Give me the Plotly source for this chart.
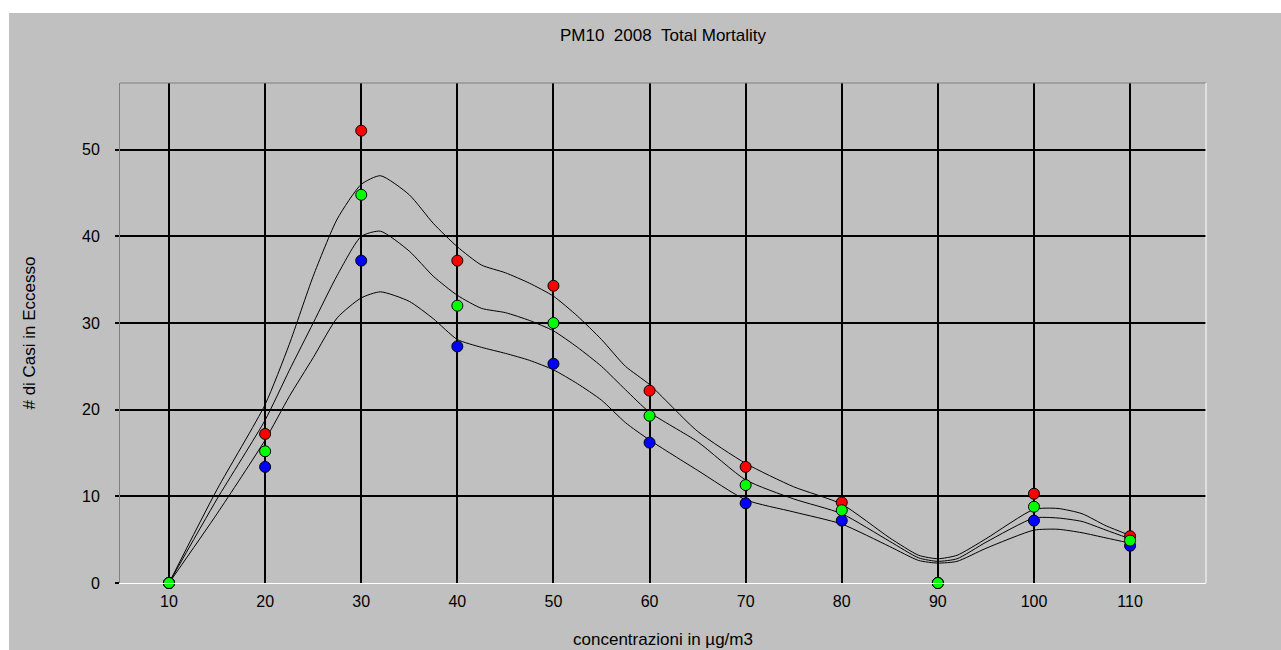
import plotly.graph_objects as go

# Observed points
x_points = [10, 20, 30, 40, 50, 60, 70, 80, 90, 100, 110]
red_vals = [0, 17.2, 52.2, 37.2, 34.3, 22.2, 13.4, 9.3, 0, 10.3, 5.4]
green_vals = [0, 15.2, 44.8, 32.0, 30.0, 19.3, 11.3, 8.4, 0, 8.8, 4.9]
blue_vals = [0, 13.4, 37.2, 27.3, 25.3, 16.2, 9.2, 7.2, 0, 7.2, 4.3]

# Smoothed curves
x_curve = [10, 15, 20, 22.5, 25, 27.5, 30, 32, 35, 37.5, 40, 42.5, 45, 47.5, 50,
           52.5, 55, 57.5, 60, 65, 70, 75, 80, 85, 88, 90, 92, 95, 100, 102.5,
           105, 107.5, 110]
upper_curve = [0, 10.8, 20.6, 27.5, 35.4, 42.0, 46.0, 47.0, 44.8, 41.5, 38.8, 36.7,
               35.8, 34.6, 33.1, 30.8, 28.1, 25.0, 22.9, 17.5, 13.8, 11.1, 9.1, 5.2,
               3.2, 2.8, 3.2, 5.1, 8.5, 8.6, 8.0, 6.6, 5.5]
middle_curve = [0, 9.7, 18.8, 24.5, 30.0, 35.5, 40.0, 40.6, 38.3, 35.4, 33.2, 31.7,
                31.2, 30.3, 29.1, 27.2, 25.0, 22.3, 19.7, 16.3, 11.9, 9.7, 8.0, 4.8,
                2.9, 2.5, 2.8, 4.7, 7.5, 7.5, 7.1, 6.1, 5.1]
lower_curve = [0, 8.0, 16.5, 21.5, 26.0, 30.6, 32.9, 33.6, 32.5, 30.5, 28.1, 27.2,
               26.5, 25.7, 24.6, 23.0, 21.1, 18.5, 16.5, 13.0, 9.6, 8.2, 6.8, 4.2,
               2.6, 2.3, 2.5, 4.0, 6.1, 6.2, 5.8, 5.2, 4.6]

x_ticks = [10, 20, 30, 40, 50, 60, 70, 80, 90, 100, 110]
y_ticks = [0, 10, 20, 30, 40, 50]

title_text = "PM10\u00a0\u00a02008\u00a0\u00a0Total Mortality"
x_title = "concentrazioni in \u00b5g/m3"
y_title = "# di Casi in Eccesso"

FONT = "Liberation Sans, Arial, sans-serif"
BG = "#c0c0c0"

fig = go.Figure()

for ys in (upper_curve, middle_curve, lower_curve):
    fig.add_trace(go.Scatter(x=x_curve, y=ys, mode="lines",
                             line=dict(color="black", width=1, shape="spline", smoothing=0.6),
                             showlegend=False, hoverinfo="skip"))

for vals, col in ((red_vals, "#ff0000"), (blue_vals, "#0000ff"), (green_vals, "#00ff00")):
    fig.add_trace(go.Scatter(x=x_points, y=vals, mode="markers",
                             marker=dict(color=col, size=11, line=dict(color="black", width=1)),
                             showlegend=False, cliponaxis=False))

W, H = 1281, 650
L, R, T, B = 120, 75, 83, 67
pw, ph = W - L - R, H - T - B

shapes = [
    # top border (dark) and right border (light)
    dict(type="line", xref="paper", yref="paper", x0=0, x1=1, y0=1, y1=1,
         line=dict(color="#808080", width=1)),
    dict(type="line", xref="paper", yref="paper", x0=1, x1=1, y0=0, y1=1,
         line=dict(color="#ffffff", width=1)),
    # white page strips (top and left)
    dict(type="rect", xref="paper", yref="paper", x0=-L / pw, x1=(W - L) / pw,
         y0=1 + (T - 13) / ph, y1=1 + T / ph, fillcolor="white", line=dict(width=0)),
    dict(type="rect", xref="paper", yref="paper", x0=-L / pw, x1=-(L - 9) / pw,
         y0=-B / ph, y1=1 + T / ph, fillcolor="white", line=dict(width=0)),
]

fig.update_layout(
    width=W, height=H,
    margin=dict(l=L, r=R, t=T, b=B, pad=0),
    paper_bgcolor=BG, plot_bgcolor=BG,
    font=dict(family=FONT, size=16, color="black"),
    title=dict(text=title_text, x=0.5, xref="paper", xanchor="center",
               y=1 - 35.5 / H, yref="container", yanchor="middle",
               font=dict(family=FONT, size=17, color="black")),
    shapes=shapes,
    xaxis=dict(range=[4.9, 117.9], tickvals=x_ticks, ticktext=[str(v) for v in x_ticks],
               showgrid=True, gridcolor="black", gridwidth=1.5, zeroline=False,
               showline=True, linecolor="white", linewidth=1, ticks="",
               ticklabelstandoff=4, automargin=False,
               title=dict(text=x_title, standoff=23, font=dict(size=17))),
    yaxis=dict(range=[0, 57.7], tickvals=y_ticks, ticktext=[str(v) for v in y_ticks],
               showgrid=True, gridcolor="black", gridwidth=1.5, zeroline=False,
               showline=True, linecolor="#808080", linewidth=1,
               ticks="outside", ticklen=4, tickcolor="black", tickwidth=1.5,
               ticklabelstandoff=12, automargin=False,
               title=dict(text=y_title, standoff=42, font=dict(size=17))),
)

fig.write_html("out.html", config={"displayModeBar": False},
               post_script="document.body.style.margin='0';")
